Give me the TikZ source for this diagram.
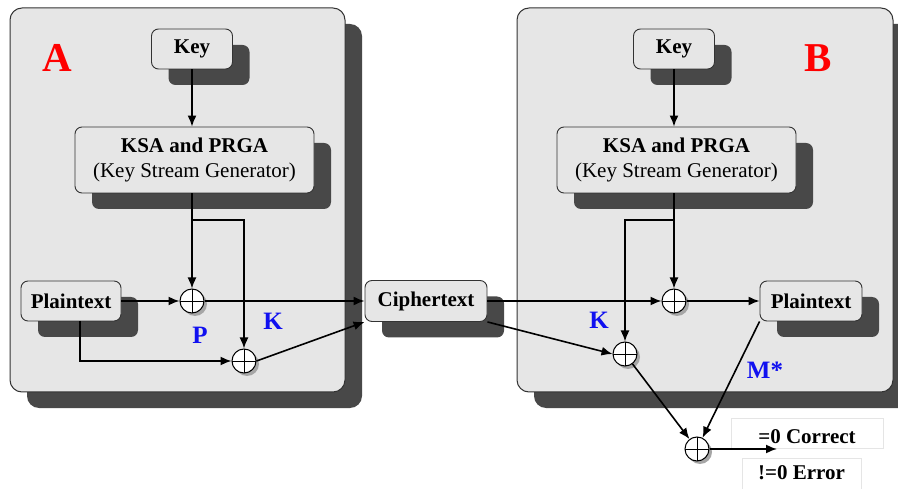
\documentclass[tikz,border=0pt]{standalone}
\usepackage{fontspec}
\setmainfont{Liberation Serif}
\usetikzlibrary{shadows,arrows.meta,calc}
\definecolor{panelfill}{HTML}{E6E6E6}
\definecolor{shade}{HTML}{484848}
\definecolor{edge}{HTML}{333333}
\definecolor{lblue}{HTML}{1010F0}
\begin{document}
\begin{tikzpicture}[x=1pt,y=-1pt,
  panel/.style={draw=edge, line width=1pt, fill=panelfill, rounded corners=12pt,
    drop shadow={shadow xshift=17pt, shadow yshift=-16pt, fill=shade, opacity=1}},
  box/.style={draw=edge, line width=0.9pt, fill=panelfill, rounded corners=7pt,
    font=\fontsize{21}{25}\selectfont\bfseries, inner sep=0pt, align=center,
    drop shadow={shadow xshift=17pt, shadow yshift=-16pt, fill=shade, opacity=1}},
  xor/.style={circle, draw=black, line width=1pt, fill=white, minimum size=24pt, inner sep=0pt,
    path picture={\draw[line width=0.8pt]
      (path picture bounding box.north) -- (path picture bounding box.south)
      (path picture bounding box.west) -- (path picture bounding box.east);},
    drop shadow={shadow xshift=3pt, shadow yshift=-3pt, fill=gray!70, opacity=1}},
  arr/.style={line width=1.6pt, -{Latex[length=11pt,width=9pt]}},
  party/.style={text=red, font=\fontsize{41}{41}\selectfont\bfseries},
  tag/.style={text=lblue, font=\fontsize{25}{25}\selectfont\bfseries},
  result/.style={draw=gray!20, fill=white, inner sep=0pt,
    font=\fontsize{21}{25}\selectfont\bfseries}]
\useasboundingbox (0,0) rectangle (898,489);

% the two parties
\draw[panel] (10,8) rectangle (345,392);
\draw[panel] (517,8) rectangle (893,392);
\node[party] (labA) at (57,58) {A};
\node[party] (labB) at (818,58) {B};

% party A
\node[box, minimum width=81pt, minimum height=40pt] (keyA) at (192,49) {Key};
\node[box, minimum width=239pt, minimum height=66pt] (ksaA) at (194.5,160)
  {KSA and PRGA\\{\mdseries (Key Stream Generator)}};
\node[box, minimum width=100pt, minimum height=40pt] (ptA) at (71,301) {Plaintext};
\node[xor] (xa1) at (192,301) {};
\node[xor] (xa2) at (244,361) {};
\coordinate (brA) at (192,220);
\coordinate (ptAout) at (80,321);

% channel
\node[box, minimum width=122pt, minimum height=41pt] (ct) at (426,301) {Ciphertext};

% party B
\node[box, minimum width=81pt, minimum height=40pt] (keyB) at (674,49) {Key};
\node[box, minimum width=239pt, minimum height=66pt] (ksaB) at (676.5,160)
  {KSA and PRGA\\{\mdseries (Key Stream Generator)}};
\node[box, minimum width=102pt, minimum height=40pt] (ptB) at (811,301) {Plaintext};
\node[xor] (xb1) at (674,301) {};
\node[xor] (xb2) at (625,354) {};
\coordinate (brB) at (674,220);

% final comparison
\node[xor] (xf) at (697,449) {};
\coordinate (outF) at (777,449);
\node[result, minimum width=152pt, minimum height=30pt, text height=20pt, text depth=0pt]
  (ok) at (807,433) {=0 Correct};
\node[result, minimum width=119pt, minimum height=32pt, text height=14pt, text depth=4pt]
  (err) at (801.5,474) {!=0 Error};

% connections in A
\draw[arr] (keyA.south) -- (keyA.south |- ksaA.north);
\draw[arr] (xa1 |- ksaA.south) -- (xa1.north);
\draw[arr] (brA) -| (xa2.north);
\draw[arr] (ptA.east) -- (xa1.west);
\draw[arr] (ptAout) |- (xa2.west);
\draw[arr] (xa1.east) -- (ct.west);
\draw[arr] (xa2.east) -- (ct.south west);

% connections in B
\draw[arr] (ct.east) -- (xb1.west);
\draw[arr] (ct.south east) -- (xb2.west);
\draw[arr] (keyB.south) -- (keyB.south |- ksaB.north);
\draw[arr] (xb1 |- ksaB.south) -- (xb1.north);
\draw[arr] (brB) -| (xb2.north);
\draw[arr] (xb1.east) -- (ptB.west);
\draw[arr] (ptB.south west) -- (xf);
\draw[arr] (xb2) -- (xf);
\draw[arr] (xf.east) -- (outF);

% labels
\node[tag] (lP) at (200,335) {P};
\node[tag] (lKA) at (273,321) {K};
\node[tag] (lKB) at (599,320) {K};
\node[tag] (lM) at (765,370) {M*};
\end{tikzpicture}
\end{document}
